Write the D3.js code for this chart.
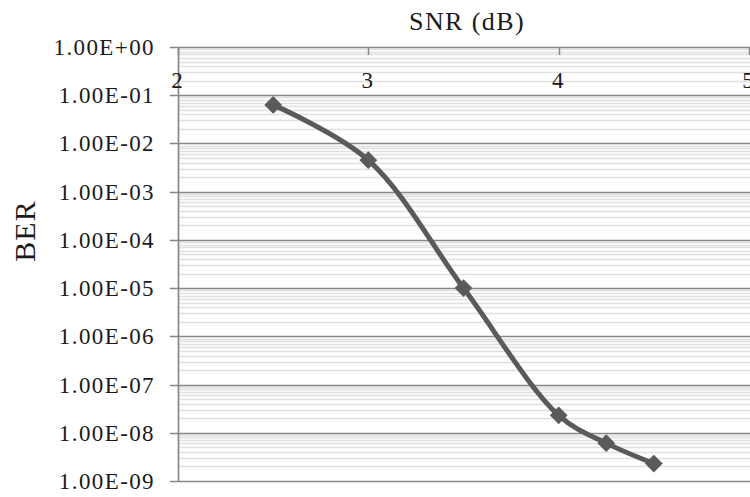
<!DOCTYPE html>
<html>
<head>
<meta charset="utf-8">
<script src="https://cdn.jsdelivr.net/npm/d3@7"></script>
<style>
html,body{margin:0;padding:0;background:#fff;overflow:hidden;}
svg{display:block;}
text{font-family:"Liberation Serif","Times New Roman",serif;fill:#1a1a1a;}
</style>
</head>
<body>
<svg id="chart" width="750" height="497"></svg>
<script>
const snr = [2.5, 3, 3.5, 4, 4.25, 4.5];
const ber = [6.3e-2, 4.5e-3, 1.0e-5, 2.3e-8, 6.1e-9, 2.3e-9];
const xTicks = [2, 3, 4, 5];
const yTickExps = [0, -1, -2, -3, -4, -5, -6, -7, -8, -9];
const yTickLabels = ["1.00E+00","1.00E-01","1.00E-02","1.00E-03","1.00E-04","1.00E-05","1.00E-06","1.00E-07","1.00E-08","1.00E-09"];

(function () {
const svg = d3.select("#chart");
const pL = 178, pR = 749, pT = 47, pB = 481;

const x = d3.scaleLinear().domain([2, 5]).range([pL, pR]);
const y = d3.scaleLog().domain([1, 1e-9]).range([pT, pB]);

// minor gridlines
const minor = [];
for (let e = -9; e < 0; e++) for (let k = 2; k <= 9; k++) minor.push(k * Math.pow(10, e));
svg.append("g").selectAll("line").data(minor).join("line")
  .attr("x1", pL).attr("x2", 750)
  .attr("y1", d => Math.round(y(d)) + 0.5).attr("y2", d => Math.round(y(d)) + 0.5)
  .attr("stroke", "#e0e0e0").attr("stroke-width", 1.4);

// major gridlines
const majors = yTickExps.map(e => Math.pow(10, e));
svg.append("g").selectAll("line").data(majors).join("line")
  .attr("x1", pL - 8).attr("x2", 750)
  .attr("y1", d => Math.round(y(d)) + 0.5).attr("y2", d => Math.round(y(d)) + 0.5)
  .attr("stroke", "#888888").attr("stroke-width", 1.5);

// y axis line
svg.append("line").attr("x1", pL + 0.5).attr("x2", pL + 0.5)
  .attr("y1", pT).attr("y2", pB + 1).attr("stroke", "#888888").attr("stroke-width", 1.7);

// x ticks (top, pointing down)
svg.append("g").selectAll("line").data(xTicks).join("line")
  .attr("x1", d => Math.round(x(d)) + 0.5).attr("x2", d => Math.round(x(d)) + 0.5)
  .attr("y1", pT).attr("y2", pT + 8)
  .attr("stroke", "#888888").attr("stroke-width", 1.5);

// x tick labels
svg.append("g").selectAll("text").data(xTicks).join("text")
  .attr("x", d => x(d) - 1).attr("y", 88)
  .attr("text-anchor", "middle").attr("font-size", 23)
  .text(d => d);

// y tick labels
svg.append("g").selectAll("text").data(yTickExps).join("text")
  .attr("x", 155).attr("y", d => y(Math.pow(10, d)) + 8)
  .attr("text-anchor", "end").attr("font-size", 23).attr("letter-spacing", 1.4)
  .text((d, i) => yTickLabels[i]);

// axis titles
svg.append("text").attr("x", 467).attr("y", 30).attr("text-anchor", "middle")
  .attr("font-size", 26).attr("letter-spacing", 1.4).text("SNR (dB)");
svg.append("text").attr("transform", "translate(35,231) rotate(-90)")
  .attr("text-anchor", "middle").attr("font-size", 30).attr("letter-spacing", 1).text("BER");

// data line
const pts = snr.map((s, i) => [x(s), y(ber[i])]);
svg.append("path").datum(pts)
  .attr("d", d3.line().curve(d3.curveCatmullRom.alpha(0.5)))
  .attr("fill", "none").attr("stroke", "#5a5a5a").attr("stroke-width", 5)
  .attr("stroke-linejoin", "round");

// markers
svg.append("g").selectAll("path").data(pts).join("path")
  .attr("transform", d => `translate(${d[0]},${d[1]})`)
  .attr("d", d3.symbol().type(d3.symbolDiamond2).size(200))
  .attr("fill", "#5a5a5a");
})();
</script>
</body>
</html>
